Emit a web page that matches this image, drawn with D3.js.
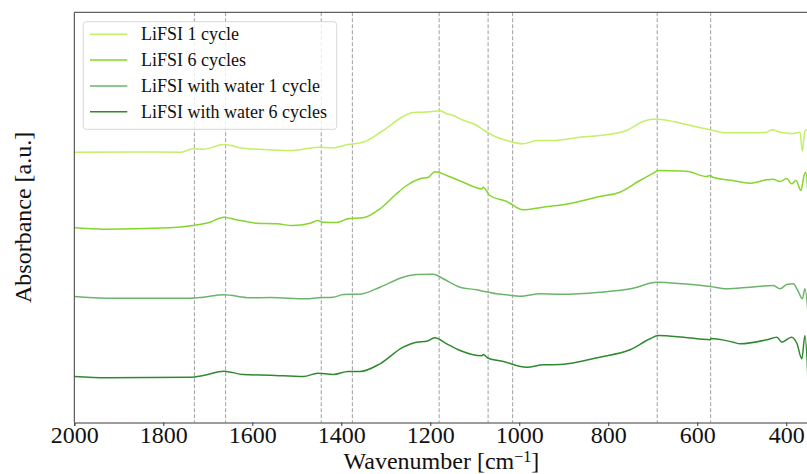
<!DOCTYPE html>
<html>
<head>
<meta charset="utf-8">
<script src="https://cdn.jsdelivr.net/npm/d3@7"></script>
<style>
  html, body { margin: 0; padding: 0; background: #fff; }
  svg { display: block; }
  svg text { font-family: "Liberation Serif", "Times New Roman", Times, serif; fill: #111; }
</style>
</head>
<body>
<svg id="chart" width="807" height="474"></svg>
<script>
// FTIR spectra, absorbance in arbitrary units (curves offset vertically)
const wavenumberTicks = [2000, 1800, 1600, 1400, 1200, 1000, 800, 600, 400];
const referenceLines = [1730, 1660, 1445, 1375, 1180, 1070, 1015, 690, 570];
const seriesNames = ["LiFSI 1 cycle", "LiFSI 6 cycles", "LiFSI with water 1 cycle", "LiFSI with water 6 cycles"];
const seriesColors = ["#c2f066", "#84d62c", "#6cb46c", "#2f8a2f"];

// [wavenumber cm^-1, absorbance a.u.]
const lifsi1 = [
  [2000, 2.703], [1880, 2.706], [1760, 2.703], [1734, 2.737], [1710, 2.733], [1664, 2.780],
  [1621, 2.743], [1560, 2.727], [1509, 2.720], [1453, 2.753], [1419, 2.747], [1385, 2.780],
  [1351, 2.803], [1306, 2.920], [1261, 3.060], [1239, 3.100], [1216, 3.103], [1190, 3.113],
  [1180, 3.120], [1163, 3.088], [1148, 3.070], [1127, 3.025], [1095, 2.970], [1080, 2.925],
  [1059, 2.870], [1028, 2.820], [992, 2.787], [960, 2.820], [924, 2.820], [864, 2.853],
  [819, 2.870], [759, 2.920], [722, 3.010], [700, 3.033], [688, 3.033], [632, 2.987],
  [571, 2.927], [534, 2.897], [475, 2.897], [444, 2.903], [433, 2.927], [414, 2.903],
  [399, 2.895], [388, 2.887], [369, 2.903], [364, 2.713], [358, 2.920], [353, 2.930]
];
const lifsi6 = [
  [2000, 1.947], [1936, 1.933], [1785, 1.947], [1734, 1.970], [1695, 2.003], [1664, 2.053],
  [1635, 2.027], [1590, 1.993], [1545, 1.987], [1509, 1.970], [1470, 1.993], [1453, 2.020],
  [1441, 2.003], [1410, 2.000], [1385, 2.037], [1351, 2.047], [1313, 2.137], [1276, 2.287],
  [1253, 2.370], [1223, 2.437], [1204, 2.453], [1190, 2.507], [1163, 2.470], [1126, 2.403],
  [1084, 2.337], [1081, 2.353], [1066, 2.270], [1028, 2.210], [992, 2.127], [947, 2.153],
  [902, 2.177], [819, 2.260], [774, 2.303], [729, 2.420], [699, 2.493], [688, 2.520],
  [624, 2.513], [579, 2.460], [571, 2.470], [565, 2.453], [520, 2.420], [482, 2.393],
  [444, 2.427], [430, 2.433], [414, 2.410], [399, 2.440], [388, 2.387], [378, 2.420],
  [367, 2.320], [360, 2.470], [356, 2.503], [351, 2.260]
];
const water1 = [
  [2000, 1.260], [1927, 1.243], [1740, 1.243], [1710, 1.253], [1664, 1.277], [1605, 1.247],
  [1560, 1.250], [1478, 1.237], [1453, 1.247], [1418, 1.253], [1395, 1.280], [1358, 1.283],
  [1313, 1.353], [1261, 1.453], [1231, 1.480], [1193, 1.483], [1171, 1.437], [1133, 1.353],
  [1096, 1.327], [1082, 1.313], [1051, 1.287], [1028, 1.277], [998, 1.263], [953, 1.287],
  [908, 1.283], [819, 1.303], [744, 1.343], [691, 1.403], [632, 1.387], [571, 1.360],
  [534, 1.337], [482, 1.353], [429, 1.370], [414, 1.337], [399, 1.380], [384, 1.387],
  [374, 1.320], [364, 1.237], [358, 1.337], [351, 1.090]
];
const water6 = [
  [2000, 0.460], [1927, 0.447], [1740, 0.453], [1710, 0.470], [1664, 0.513], [1620, 0.480],
  [1560, 0.473], [1485, 0.460], [1453, 0.493], [1418, 0.480], [1385, 0.510], [1358, 0.510],
  [1313, 0.587], [1261, 0.753], [1231, 0.803], [1208, 0.813], [1190, 0.847], [1163, 0.787],
  [1133, 0.720], [1084, 0.667], [1081, 0.680], [1070, 0.643], [1036, 0.610], [983, 0.553],
  [946, 0.577], [908, 0.580], [819, 0.653], [751, 0.727], [706, 0.837], [688, 0.870],
  [631, 0.853], [571, 0.827], [569, 0.840], [519, 0.803], [504, 0.787], [444, 0.827],
  [421, 0.853], [410, 0.803], [388, 0.853], [376, 0.790], [365, 0.637], [358, 0.870],
  [351, 0.420]
];
const allSeries = [lifsi1, lifsi6, water1, water6];

const serif = "'Liberation Serif', 'Times New Roman', Times, serif";
const svg = d3.select("#chart");
const margin = { left: 74.3, top: 12.3, bottom: 422.5 };
const xRight = 808.5;

const x = d3.scaleLinear().domain([2000, 350]).range([margin.left, xRight]);
const y = d3.scaleLinear().domain([0, 4.102]).range([margin.bottom, margin.top]);

svg.append("defs").append("clipPath").attr("id", "plotClip")
  .append("rect").attr("x", margin.left).attr("y", margin.top)
  .attr("width", xRight - margin.left).attr("height", margin.bottom - margin.top);
const plot = svg.append("g");

// reference band positions
plot.append("g").selectAll("line").data(referenceLines).join("line")
  .attr("x1", d => x(d)).attr("x2", d => x(d))
  .attr("y1", margin.top).attr("y2", margin.bottom)
  .attr("stroke", "#a8a8a8").attr("stroke-width", 1.1)
  .attr("stroke-dasharray", "4,2");

// spectra
const line = d3.line().x(d => x(d[0])).y(d => y(d[1])).curve(d3.curveMonotoneX);
plot.append("g").attr("clip-path", "url(#plotClip)")
  .selectAll("path").data(allSeries).join("path")
  .attr("d", line)
  .attr("fill", "none")
  .attr("stroke", (d, i) => seriesColors[i])
  .attr("stroke-width", 1.5)
  .attr("stroke-linejoin", "round");

// spines
const spine = svg.append("g").attr("stroke", "#3a3a3a").attr("stroke-width", 1).attr("fill", "none");
spine.append("line").attr("x1", margin.left).attr("x2", margin.left).attr("y1", margin.top).attr("y2", margin.bottom);
spine.append("line").attr("x1", margin.left).attr("x2", xRight).attr("y1", margin.top).attr("y2", margin.top);

// x axis
const xAxis = d3.axisBottom(x).tickValues(wavenumberTicks).tickSize(3.5).tickPadding(0).tickFormat(d3.format("d"));
const gx = svg.append("g").attr("transform", `translate(0,${margin.bottom})`).call(xAxis)
  .attr("font-family", null).attr("font-size", null);
gx.select(".domain").attr("stroke", "#3a3a3a").attr("stroke-width", 1);
gx.selectAll(".tick line").attr("stroke", "#3a3a3a");
gx.selectAll(".tick text")
  .style("font-family", serif)
  .style("font-size", "24px").attr("fill", "#111");

// axis titles
const xt = svg.append("text").attr("x", (margin.left + xRight) / 2).attr("y", 468.5)
  .attr("text-anchor", "middle").style("font-family", serif).style("font-size", "24px");
xt.append("tspan").text("Wavenumber [cm");
xt.append("tspan").style("font-size", "16px").attr("dy", -7).text("\u22121");
xt.append("tspan").attr("dy", 7).text("]");

svg.append("text")
  .attr("transform", `translate(31,${(margin.top + margin.bottom) / 2}) rotate(-90)`)
  .attr("text-anchor", "middle").style("font-family", serif).style("font-size", "24px")
  .text("Absorbance [a.u.]");

// legend
const legend = svg.append("g");
legend.append("rect").attr("x", 83.3).attr("y", 21.7).attr("width", 253.4).attr("height", 107.6)
  .attr("rx", 3).attr("fill", "#fff").attr("fill-opacity", 0.8)
  .attr("stroke", "#d8d8d8").attr("stroke-width", 1);
const rows = legend.selectAll("g.row").data(seriesNames).join("g").attr("class", "row")
  .attr("transform", (d, i) => `translate(0,${34.3 + i * 25.8})`);
rows.append("line").attr("x1", 90).attr("x2", 127.3).attr("y1", 0).attr("y2", 0)
  .attr("stroke", (d, i) => seriesColors[i]).attr("stroke-width", 1.5);
rows.append("text").attr("x", 141).attr("y", 6).style("font-family", serif).style("font-size", "18px").text(d => d);
</script>
</body>
</html>
